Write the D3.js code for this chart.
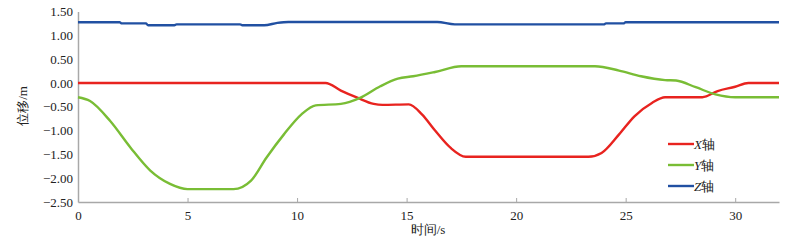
<!DOCTYPE html>
<html><head><meta charset="utf-8">
<script src="https://cdn.jsdelivr.net/npm/d3@7"></script>
<style>body{margin:0;background:#fff}svg{display:block}</style>
</head><body><svg id="c" width="795" height="243"></svg>
<script>
const xTicks = [0,5,10,15,20,25,30];
const yTicks = [1.5,1.0,0.5,0,-0.5,-1.0,-1.5,-2.0,-2.5];
const seriesNames = ["X","Y","Z"];
const seriesColors = ["#e8231f","#79bd35","#2150a2"];
const xSeries = [[0,0],[11.3,0],[12,-0.16],[12.75,-0.31],[13.5,-0.44],[13.9,-0.46],[15.1,-0.45],[15.7,-0.66],[16.3,-1.0],[17.0,-1.36],[17.7,-1.55],[23.3,-1.55],[23.9,-1.47],[24.7,-1.08],[25.4,-0.7],[26.2,-0.42],[26.8,-0.3],[28.5,-0.3],[29.2,-0.17],[30,-0.08],[30.6,0],[32,0]];
const ySeries = [[0,-0.3],[0.55,-0.38],[1.47,-0.8],[2.4,-1.36],[3.3,-1.84],[4.2,-2.12],[5,-2.23],[7.1,-2.23],[7.9,-2.05],[8.6,-1.57],[9.4,-1.08],[10.2,-0.66],[10.85,-0.47],[12,-0.44],[12.9,-0.31],[13.8,-0.07],[14.6,0.09],[15.3,0.14],[16.3,0.23],[17.5,0.35],[23.6,0.35],[24.7,0.26],[25.7,0.14],[26.8,0.06],[27.3,0.05],[28.2,-0.09],[29.1,-0.24],[30,-0.3],[32,-0.3]];
const zSeries = [[0,1.275],[1.9,1.275],[2.0,1.25],[3.1,1.25],[3.2,1.21],[4.4,1.21],[4.5,1.23],[7.4,1.23],[7.5,1.21],[8.5,1.21],[9.1,1.26],[9.6,1.28],[16.4,1.28],[17.2,1.23],[24.0,1.23],[24.1,1.25],[24.9,1.25],[25.0,1.275],[32,1.275]];
const allSeries = [xSeries, ySeries, zSeries];

const svg = d3.select("#c");
const L=78, R=779, T=11.5, B=202;
const x = d3.scaleLinear().domain([0,32]).range([L,R]);
const y = d3.scaleLinear().domain([-2.5,1.5]).range([B,T]);
const font = "'Liberation Serif','Times New Roman',serif";
const axisColor = "#a8a8a8";

// x axis
const gx = svg.append("g").attr("transform",`translate(0,${B})`)
  .call(d3.axisBottom(x).tickValues(xTicks).tickSizeInner(-4).tickSizeOuter(0).tickPadding(9).tickFormat(d=>d));
gx.select(".domain").attr("stroke",axisColor).attr("stroke-width",1.5);
gx.selectAll(".tick line").attr("stroke",axisColor);
gx.selectAll("text").attr("font-family",font).attr("font-size",13).attr("fill","#222");

// y axis
const gy = svg.append("g").attr("transform",`translate(${L},0)`)
  .call(d3.axisLeft(y).tickValues(yTicks).tickSize(0).tickPadding(5).tickFormat(d=>{const s=Math.abs(d).toFixed(2);return d<0?"\u2212"+s:s;}));
gy.select(".domain").attr("stroke",axisColor).attr("stroke-width",1.5);
gy.selectAll("text").attr("font-family",font).attr("font-size",13).attr("fill","#222");

// lines
const line = d3.line().x(d=>x(d[0])).y(d=>y(d[1])).curve(d3.curveMonotoneX);
allSeries.forEach((s,i)=>{
  svg.append("path").datum(s).attr("d",line).attr("fill","none")
    .attr("stroke",seriesColors[i]).attr("stroke-width",2.4);
});

// axis titles
svg.append("text").attr("x",428).attr("y",234).attr("text-anchor","middle")
  .attr("font-family",font).attr("font-size",13).attr("fill","#222").text("时间/s");
svg.append("text").attr("transform","translate(27,106) rotate(-90)").attr("text-anchor","middle")
  .attr("font-family",font).attr("font-size",13).attr("fill","#222").text("位移/m");

// legend
const legY = [144,165,186];
seriesNames.forEach((n,i)=>{
  svg.append("line").attr("x1",668).attr("x2",694).attr("y1",legY[i]).attr("y2",legY[i])
    .attr("stroke",seriesColors[i]).attr("stroke-width",2.4);
  const t = svg.append("text").attr("x",694).attr("y",legY[i]+4.5)
    .attr("font-family",font).attr("font-size",13).attr("fill","#222");
  t.append("tspan").attr("font-style","italic").text(n);
  t.append("tspan").text("轴");
});
</script></body></html>
